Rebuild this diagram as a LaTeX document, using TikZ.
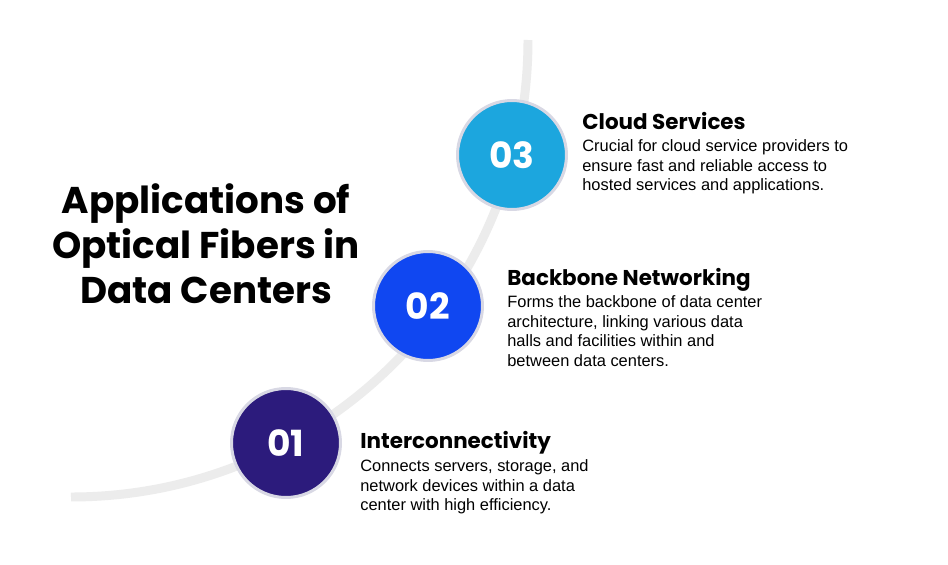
\documentclass[tikz,border=0pt]{standalone}
\usepackage{fontspec}
\setmainfont{Liberation Sans}
\newfontfamily\headfont{Poppins}
\definecolor{arcgray}{HTML}{ECECEC}
\definecolor{ringgray}{HTML}{D8D8E4}
\definecolor{navy}{HTML}{2C1B7C}
\definecolor{royal}{HTML}{1047F1}
\definecolor{sky}{HTML}{1CA6DE}
\tikzset{
  numdot/.style={circle, draw=ringgray, line width=1.7pt, minimum size=2.18cm,
    inner sep=0pt, text=white, font=\headfont\bfseries\fontsize{20.5}{20.5}\selectfont},
  headtext/.style={anchor=base west, inner sep=0pt,
    font=\headfont\bfseries\fontsize{12.2}{14}\selectfont},
  bodytext/.style={anchor=north west, inner sep=0pt, align=left,
    font=\fontsize{9.35}{11.3}\selectfont},
  titletext/.style={align=center, inner sep=0pt,
    font=\headfont\bfseries\fontsize{21.2}{25.6}\selectfont}
}
\begin{document}
\begin{tikzpicture}[x=0.02cm, y=-0.02cm]

  % -- Canvas --
  \fill[white] (0,0) rectangle (948,565);
  \useasboundingbox (0,0) rectangle (948,565);

  % -- Fiber Arc --
  \draw[arcgray, line width=5.1pt] (528,40) arc[start angle=0, end angle=90, radius=457];

  % -- Title --
  \node[titletext] (title) at (206,244) {Applications of\\Optical Fibers in\\Data Centers};

  % -- Step Dots --
  \node[numdot, fill=sky] (dot3) at (512,155) {03};
  \node[numdot, fill=royal] (dot2) at (428,306) {02};
  \node[numdot, fill=navy] (dot1) at (286,443) {01};

  % -- Step 03 --
  \node[headtext] (head3) at (582,129) {Cloud Services};
  \node[bodytext] (body3) at (582,139) {Crucial for cloud service providers to\\ensure fast and reliable access to\\hosted services and applications.};

  % -- Step 02 --
  \node[headtext] (head2) at (507,285) {Backbone Networking};
  \node[bodytext] (body2) at (507,295) {Forms the backbone of data center\\architecture, linking various data\\halls and facilities within and\\between data centers.};

  % -- Step 01 --
  \node[headtext] (head1) at (360,448) {Interconnectivity};
  \node[bodytext] (body1) at (360,459) {Connects servers, storage, and\\network devices within a data\\center with high efficiency.};

\end{tikzpicture}
\end{document}
